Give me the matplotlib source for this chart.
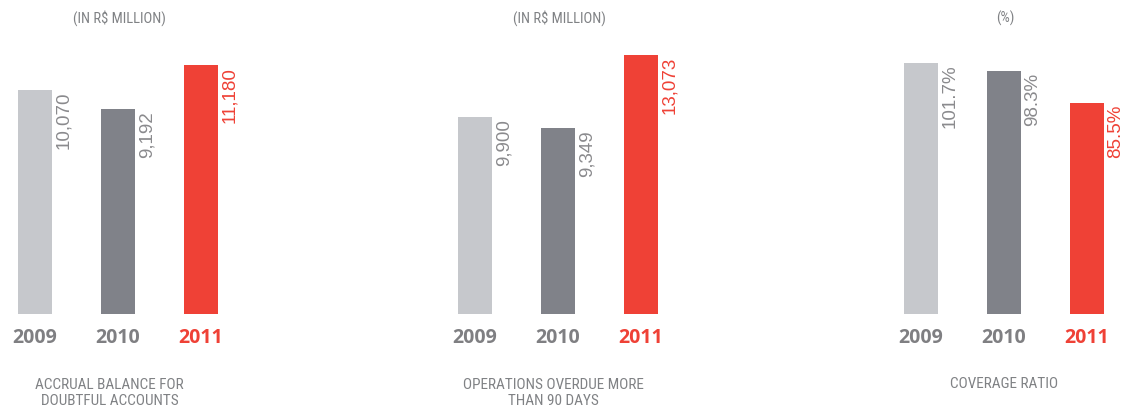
import matplotlib.pyplot as plt
from matplotlib.transforms import blended_transform_factory
from matplotlib import font_manager

# data
years = ['2009', '2010', '2011']
accrual = [10070, 9192, 11180]
overdue = [9900, 9349, 13073]
coverage = [101.7, 98.3, 85.5]

accrual_labels = ['10,070', '9,192', '11,180']
overdue_labels = ['9,900', '9,349', '13,073']
coverage_labels = ['101.7%', '98.3%', '85.5%']

units = ['(IN R$ MILLION)', '(IN R$ MILLION)', '(%)']
captions = ['ACCRUAL BALANCE FOR\nDOUBTFUL ACCOUNTS',
            'OPERATIONS OVERDUE MORE\nTHAN 90 DAYS',
            'COVERAGE RATIO']

bar_colors = ['#c6c8cc', '#808289', '#ef4136']
text_colors = ['#8a8a8d', '#8a8a8d', '#ef4136']
year_colors = ['#7f7f82', '#7f7f82', '#ef4136']

W, H = 1123, 412
fig = plt.figure(figsize=(W / 100, H / 100), dpi=100)

# pick a condensed face if one is around
installed = {f.name for f in font_manager.fontManager.ttflist}
narrow = [n for n in ['Liberation Sans Narrow', 'DejaVu Sans Condensed',
                      'Roboto Condensed', 'Open Sans Condensed']
          if n in installed] + ['Liberation Sans', 'DejaVu Sans']
regular = ['Liberation Sans', 'DejaVu Sans']
bold = ['Open Sans', 'Liberation Sans', 'DejaVu Sans']

baseline = 313.5     # pixel row of bar bottoms (from top)
top = 40.0           # pixel row of axes top
spacing = 83.0       # px between bar centres
first_centres = [35, 475, 921]
# px per unit for each panel
scales = [0.0222, 0.0198, 2.466]
caption_shift = [0.9, 0.95, 1.0]

panels = [(accrual, accrual_labels), (overdue, overdue_labels),
          (coverage, coverage_labels)]

for p, (vals, labels) in enumerate(panels):
    left_px = first_centres[p] - 0.5 * spacing
    ax = fig.add_axes([left_px / W, (H - baseline) / H,
                       3 * spacing / W, (baseline - top) / H])
    ax.set_xlim(-0.5, 2.5)
    ax.set_ylim(0, (baseline - top) / scales[p])
    ax.axis('off')

    xs = range(len(years))
    ax.bar(xs, vals, width=34 / spacing, color=bar_colors)

    for i, (v, lab) in enumerate(zip(vals, labels)):
        ax.annotate(lab, xy=(i + 17 / spacing, v), xytext=(2.3, -1.2),
                    textcoords='offset points', rotation=90,
                    ha='left', va='top', fontsize=13.5,
                    family=regular, color=text_colors[i])

    tr = blended_transform_factory(ax.transData, fig.transFigure)
    for i, y in enumerate(years):
        ax.text(i, 1 - 338 / H, y, transform=tr, ha='center', va='center',
                fontsize=14, fontweight='bold', family=bold,
                color=year_colors[i])

    ax.text(1.02, 1 - 18 / H, units[p], transform=tr, ha='center',
            va='center', fontsize=10.5, family=narrow, stretch='condensed',
            color='#808285')
    cap_y = 393 if '\n' in captions[p] else 384
    ax.text(caption_shift[p], 1 - cap_y / H, captions[p], transform=tr,
            ha='center', va='center', fontsize=11, family=narrow,
            stretch='condensed', color='#808285', linespacing=1.2)

fig.savefig('out.png', dpi=100)
